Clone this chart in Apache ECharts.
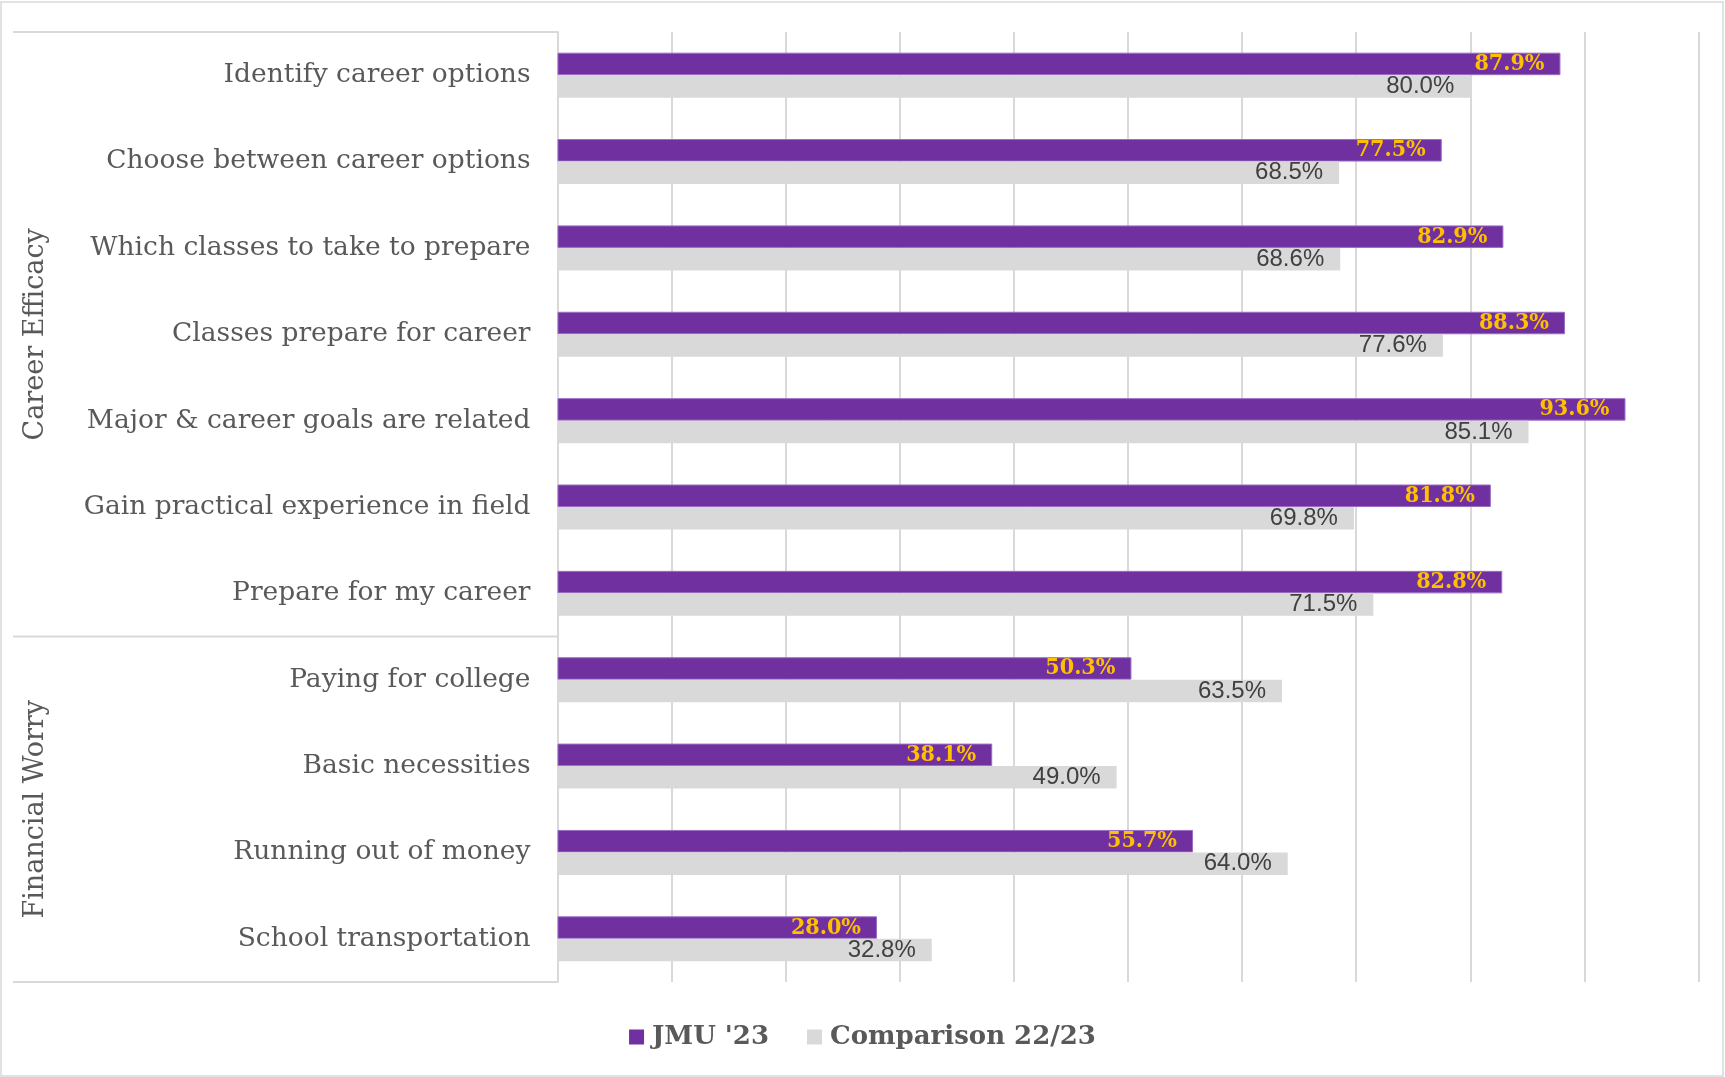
<!DOCTYPE html>
<html>
<head>
<meta charset="utf-8">
<script src="https://cdn.jsdelivr.net/npm/echarts@6/dist/echarts.min.js"></script>
<style>
  html, body { margin: 0; padding: 0; background: #ffffff; }
  #chart { width: 1725px; height: 1077px; }
</style>
</head>
<body>
<div id="chart"></div>
<script>
// Survey items, top to bottom
const categories = [
  'Identify career options',
  'Choose between career options',
  'Which classes to take to prepare',
  'Classes prepare for career',
  'Major & career goals are related',
  'Gain practical experience in field',
  'Prepare for my career',
  'Paying for college',
  'Basic necessities',
  'Running out of money',
  'School transportation'
];
// Item groups and how many items each one spans
const groupNames = ['Career Efficacy', 'Financial Worry'];
const groupSizes = [7, 4];

const seriesNames = ["JMU '23", 'Comparison 22/23'];
const jmuValues = [87.9, 77.5, 82.9, 88.3, 93.6, 81.8, 82.8, 50.3, 38.1, 55.7, 28.0];
const comparisonValues = [80.0, 68.5, 68.6, 77.6, 85.1, 69.8, 71.5, 63.5, 49.0, 64.0, 32.8];

const SLAB = '"DejaVu Serif Condensed", "DejaVu Serif", serif';
const SLAB_WIDE = '"DejaVu Serif", serif';
const TEXT = '#595959';
const RULE = '#d9d9d9';

const chart = echarts.init(document.getElementById('chart'), null, { renderer: 'canvas' });

const pct = p => p.value.toFixed(1) + '%';

chart.setOption({
  animation: false,
  backgroundColor: '#ffffff',
  grid: { left: 557.5, right: 26.5, top: 32, bottom: 95, containLabel: false },
  legend: {
    bottom: 22,
    left: 'center',
    itemWidth: 15,
    itemHeight: 15,
    itemGap: 38,
    icon: 'rect',
    itemStyle: { borderWidth: 0 },
    textStyle: { fontFamily: SLAB_WIDE, fontWeight: 'bold', fontSize: 26, color: TEXT, padding: [0, 0, 0, 3] },
    data: seriesNames
  },
  xAxis: {
    type: 'value',
    min: 0,
    max: 100,
    interval: 10,
    axisLabel: { show: false },
    axisLine: { show: false },
    axisTick: { show: false },
    splitLine: { show: true, lineStyle: { color: RULE, width: 2 } }
  },
  yAxis: {
    type: 'category',
    inverse: true,
    data: categories,
    axisLine: { show: true, lineStyle: { color: RULE, width: 2 } },
    axisTick: { show: false },
    axisLabel: { margin: 27, fontFamily: SLAB_WIDE, fontSize: 26.5, color: TEXT, padding: [7, 0, 0, 0] }
  },
  series: [
    {
      name: seriesNames[0],
      type: 'bar',
      data: jmuValues,
      barWidth: 22.5,
      barGap: '0%',
      itemStyle: { color: '#7030a0', borderColor: '#9b6cc4', borderWidth: 1 },
      label: {
        show: true,
        position: 'insideRight',
        distance: 16,
        formatter: pct,
        fontFamily: SLAB,
        fontWeight: 'bold',
        fontSize: 23,
        color: '#ffc000',
        padding: [4, 0, 0, 0]
      }
    },
    {
      name: seriesNames[1],
      type: 'bar',
      data: comparisonValues,
      barWidth: 22.5,
      itemStyle: { color: '#d9d9d9' },
      label: {
        show: true,
        position: 'insideRight',
        distance: 16,
        formatter: pct,
        fontFamily: '"Liberation Sans", Arial, sans-serif',
        fontSize: 24,
        color: '#404040',
        padding: [4, 0, 0, 0]
      }
    }
  ]
});

// Group rules and rotated group titles on the left, placed from the category scale
function drawGroups() {
  const c0 = chart.convertToPixel({ yAxisIndex: 0 }, categories[0]);
  const cN = chart.convertToPixel({ yAxisIndex: 0 }, categories[categories.length - 1]);
  const band = (cN - c0) / (categories.length - 1);
  const top = c0 - band / 2;
  const axisX = chart.convertToPixel({ xAxisIndex: 0 }, 0);

  const elements = [];
  // outer frame
  elements.push({
    type: 'rect',
    shape: { x: 1, y: 2, width: 1722, height: 1074 },
    style: { fill: null, stroke: RULE, lineWidth: 1.5 },
    silent: true
  });

  let start = 0;
  const edges = [top];
  groupNames.forEach((name, i) => {
    const y0 = top + start * band;
    const y1 = top + (start + groupSizes[i]) * band;
    edges.push(y1);
    elements.push({
      type: 'text',
      x: 36,
      y: (y0 + y1) / 2,
      rotation: Math.PI / 2,
      style: {
        text: name,
        fontFamily: SLAB_WIDE,
        fontSize: 27,
        fill: TEXT,
        align: 'center',
        verticalAlign: 'middle'
      },
      silent: true
    });
    start += groupSizes[i];
  });
  edges.forEach(y => {
    elements.push({
      type: 'line',
      shape: { x1: 13, y1: y, x2: axisX, y2: y },
      style: { stroke: RULE, lineWidth: 2 },
      silent: true
    });
  });
  chart.setOption({ graphic: { elements } });
}
drawGroups();
</script>
</body>
</html>
